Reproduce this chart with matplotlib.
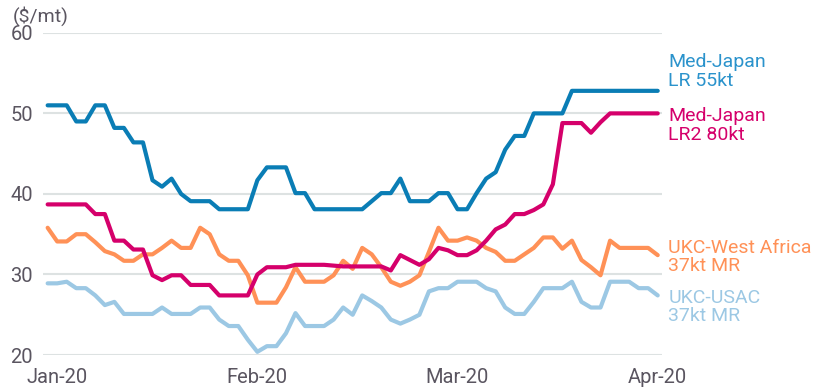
import matplotlib.pyplot as plt

# freight rates, $/mt, one value per business day
med_japan_lr = [51, 51, 51, 49, 49, 51, 51, 48.2, 48.2, 46.4, 46.4, 41.7, 40.9, 41.9, 40.0,
                39.1, 39.1, 39.1, 38.1, 38.1, 38.1, 38.1, 41.7, 43.3, 43.3, 43.3, 40.1, 40.1,
                38.1, 38.1, 38.1, 38.1, 38.1, 38.1, 39.1, 40.1, 40.1, 41.9, 39.1, 39.1, 39.1,
                40.1, 40.1, 38.1, 38.1, 40.1, 41.9, 42.7, 45.5, 47.2, 47.2, 50, 50, 50, 50,
                52.8, 52.8, 52.8, 52.8, 52.8, 52.8, 52.8, 52.8, 52.8, 52.8]
med_japan_lr2 = [38.7, 38.7, 38.7, 38.7, 38.7, 37.5, 37.5, 34.2, 34.2, 33.1, 33.1, 29.9, 29.3,
                 29.9, 29.9, 28.7, 28.7, 28.7, 27.4, 27.4, 27.4, 27.4, 30.0, 30.9, 30.9, 30.9,
                 31.2, 31.2, 31.2, 31.2, 31.1, 31.0, 31.0, 31.0, 31.0, 31.0, 30.5, 32.4, 31.8,
                 31.2, 31.9, 33.3, 33.0, 32.4, 32.4, 33.0, 34.2, 35.6, 36.2, 37.5, 37.5, 38.0,
                 38.7, 41.2, 48.8, 48.8, 48.8, 47.6, 48.9, 50, 50, 50, 50, 50, 50]
ukc_waf = [35.8, 34.1, 34.1, 35.0, 35.0, 34.0, 32.9, 32.5, 31.7, 31.7, 32.5, 32.5, 33.3, 34.2,
           33.3, 33.3, 35.8, 35.0, 32.5, 31.7, 31.7, 29.9, 26.5, 26.5, 26.5, 28.4, 30.9, 29.1,
           29.1, 29.1, 29.9, 31.7, 30.7, 33.3, 32.5, 30.9, 29.1, 28.6, 29.1, 29.9, 32.8, 35.8,
           34.2, 34.2, 34.6, 34.2, 33.3, 32.8, 31.7, 31.7, 32.5, 33.3, 34.6, 34.6, 33.2, 34.2,
           31.8, 30.9, 29.9, 34.2, 33.3, 33.3, 33.3, 33.3, 32.4]
ukc_usac = [28.9, 28.9, 29.1, 28.3, 28.3, 27.4, 26.2, 26.6, 25.1, 25.1, 25.1, 25.1, 25.9, 25.1,
            25.1, 25.1, 25.9, 25.9, 24.4, 23.6, 23.6, 21.9, 20.4, 21.1, 21.1, 22.7, 25.2, 23.6,
            23.6, 23.6, 24.4, 25.9, 25.0, 27.4, 26.7, 25.9, 24.4, 23.9, 24.4, 25.0, 27.9, 28.3,
            28.3, 29.1, 29.1, 29.1, 28.3, 27.9, 25.9, 25.1, 25.1, 26.6, 28.3, 28.3, 28.3, 29.1,
            26.6, 25.9, 25.9, 29.1, 29.1, 29.1, 28.3, 28.3, 27.4]

month_pos = [1, 22, 43, 64]
month_labels = ['Jan-20', 'Feb-20', 'Mar-20', 'Apr-20']

series = [
    (med_japan_lr, '#0a7db5', '#2b93cc', 'Med-Japan\nLR 55kt', 55.2),
    (med_japan_lr2, '#d5006b', '#d5006b', 'Med-Japan\nLR2 80kt', 48.5),
    (ukc_waf, '#ff9157', '#ff9157', 'UKC-West Africa\n37kt MR', 32.2),
    (ukc_usac, '#9cc8e4', '#9cc8e4', 'UKC-USAC\n37kt MR', 26.0),
]

plt.rcParams['font.family'] = ['Roboto', 'DejaVu Sans']
txt = '#5a5560'

fig = plt.figure(figsize=(8.21, 3.91), dpi=100)
ax = fig.add_axes([0.052, 0.092, 0.754, 0.824])

x = list(range(len(med_japan_lr)))
for vals, col, tcol, name, ypos in series[::-1]:
    ax.plot(x, vals, color=col, lw=3, solid_capstyle='round', solid_joinstyle='round', zorder=3)
for vals, col, tcol, name, ypos in series:
    ax.text(65.1, ypos, name, color=tcol, fontsize=14, va='center', ha='left',
            linespacing=1.02, clip_on=False)

ax.set_xlim(-0.52, 64.42)
ax.set_ylim(20, 60)
ax.set_yticks([20, 30, 40, 50, 60])
ax.set_xticks(month_pos)
ax.set_xticklabels(month_labels)
ax.grid(axis='y', color='#dde2e2', lw=1.5, zorder=0)
ax.tick_params(length=0, labelsize=14.5, labelcolor=txt)
ax.tick_params(axis='y', pad=7)
ax.tick_params(axis='x', pad=9)
for s in ax.spines.values():
    s.set_visible(False)
fig.text(0.015, 0.96, '($/mt)', color=txt, fontsize=14, va='center', ha='left')

plt.savefig('out.png')
